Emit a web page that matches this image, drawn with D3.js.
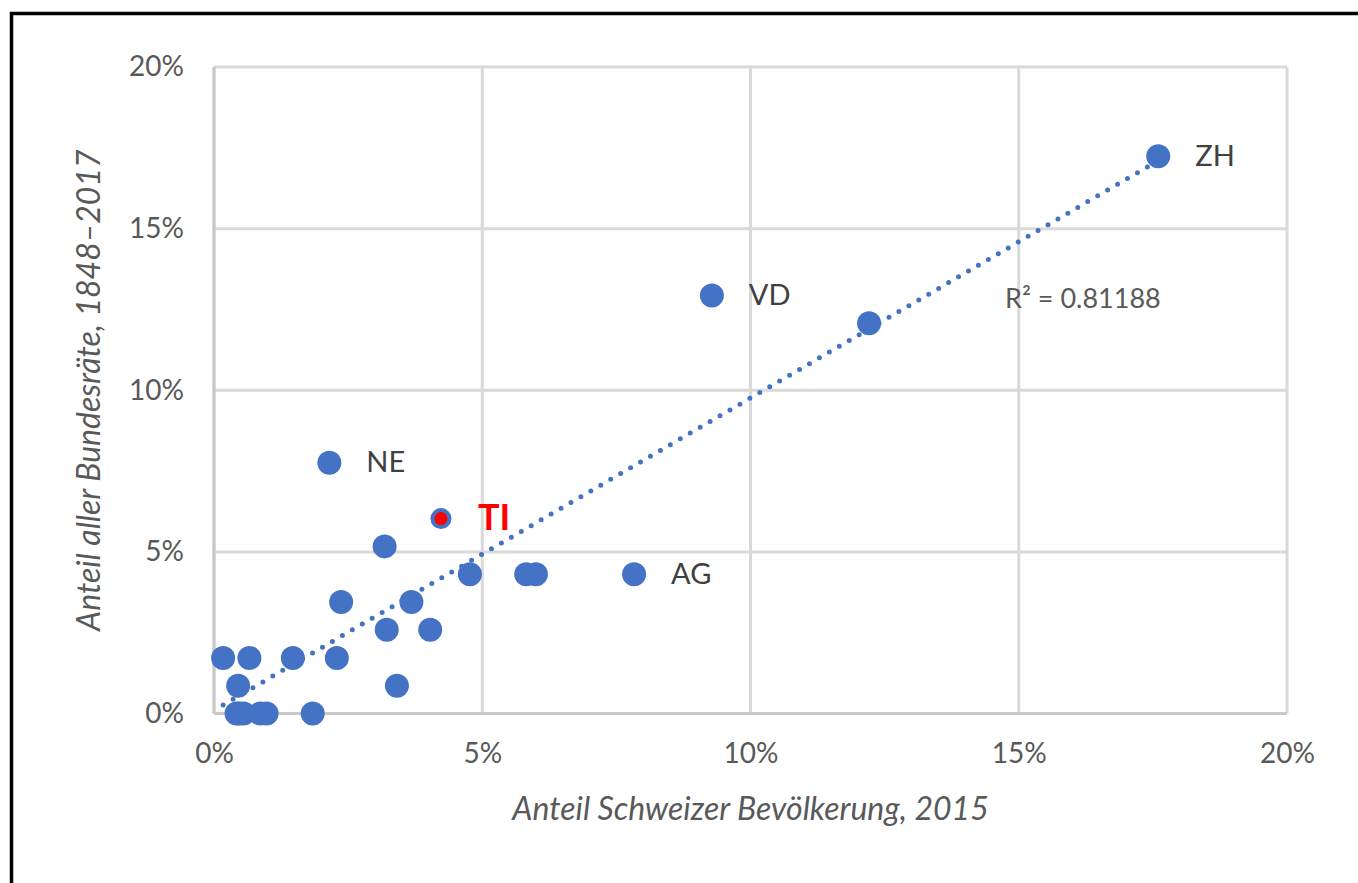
<!DOCTYPE html>
<html>
<head>
<meta charset="utf-8">
<script src="https://cdn.jsdelivr.net/npm/d3@7"></script>
<style>
  html, body { margin: 0; padding: 0; background: #fff; }
  svg { display: block; }
  text { font-family: Lato, "Open Sans", sans-serif; }
</style>
</head>
<body>
<svg id="chart" width="1358" height="883"></svg>
<script>
// Data (percent)
const cantons     = ["ZH","BE","VD","AG","SG","GE","LU","TI","VS","FR","BL","TG","SO","GR","BS","NE","SZ","ZG","SH","JU","AR","NW","GL","OW","UR","AI"];
const popShare    = [17.60,12.21,9.28,7.83,6.00,5.82,4.77,4.23,4.03,3.68,3.41,3.18,3.22,2.37,2.29,2.15,1.84,1.47,0.98,0.86,0.66,0.55,0.45,0.47,0.42,0.17];
const councilShare= [17.24,12.07,12.93,4.31,4.31,4.31,4.31,6.03,2.59,3.45,0.86,5.17,2.59,3.45,1.72,7.76,0,1.72,0,0,1.72,0,0.86,0,0,1.72];
const labelled    = ["ZH","VD","NE","TI","AG"];
const highlight   = "TI";
const xTicks = [0,5,10,15,20];
const yTicks = [0,5,10,15,20];
const r2Text = "R² = 0.81188";
const xTitle = "Anteil Schweizer Bevölkerung, 2015";
const yTitle = "Anteil aller Bundesräte, 1848–2017";

const data = cantons.map((c,i)=>({c, x: popShare[i], y: councilShare[i]}));

const svg = d3.select("#chart");
const x = d3.scaleLinear().domain([0,20]).range([214,1287]);
const y = d3.scaleLinear().domain([0,20]).range([713.5,67]);

// frame
svg.append("line").attr("x1",10).attr("x2",1358).attr("y1",13.5).attr("y2",13.5).attr("stroke","#000").attr("stroke-width",3.5);
svg.append("line").attr("x1",11.5).attr("x2",11.5).attr("y1",12).attr("y2",883).attr("stroke","#000").attr("stroke-width",3.5);

// grid
const grid = svg.append("g");
grid.selectAll(".gx").data(xTicks).join("line")
  .attr("x1",d=>x(d)).attr("x2",d=>x(d)).attr("y1",y(20)).attr("y2",y(0))
  .attr("stroke","#d9d9d9").attr("stroke-width",3);
grid.selectAll(".gy").data(yTicks).join("line")
  .attr("x1",x(0)).attr("x2",x(20)).attr("y1",d=>y(d)).attr("y2",d=>y(d))
  .attr("stroke","#d9d9d9").attr("stroke-width",3);
// axis lines
svg.append("line").attr("x1",x(0)).attr("x2",x(20)).attr("y1",y(0)).attr("y2",y(0)).attr("stroke","#c8c8c8").attr("stroke-width",3);
svg.append("line").attr("x1",x(0)).attr("x2",x(0)).attr("y1",y(0)).attr("y2",y(20)).attr("stroke","#c8c8c8").attr("stroke-width",3);

// axes tick labels via d3 axes
const xAxis = d3.axisBottom(x).tickValues(xTicks).tickFormat(d=>d+"%").tickSize(0).tickPadding(30);
const gx = svg.append("g").attr("transform",`translate(0,${y(0)})`).call(xAxis);
const yAxis = d3.axisLeft(y).tickValues(yTicks).tickFormat(d=>d+"%").tickSize(0).tickPadding(30);
const gy = svg.append("g").attr("transform",`translate(${x(0)},0)`).call(yAxis);
[gx,gy].forEach(g=>{
  g.select(".domain").remove();
  g.selectAll("text").attr("font-family","Lato, sans-serif").attr("font-size",28).attr("fill","#595959");
});

// regression
const mx = d3.mean(popShare), my = d3.mean(councilShare);
const sxy = d3.sum(data, d=>(d.x-mx)*(d.y-my));
const sxx = d3.sum(data, d=>(d.x-mx)**2);
const slope = sxy/sxx, intercept = my - slope*mx;
const x0 = d3.min(popShare), x1 = d3.max(popShare);
svg.append("line")
  .attr("x1",x(x0)).attr("y1",y(intercept+slope*x0))
  .attr("x2",x(x1)).attr("y2",y(intercept+slope*x1))
  .attr("stroke","#4472c4").attr("stroke-width",5)
  .attr("stroke-linecap","round").attr("stroke-dasharray","0 11.5");

// points
svg.append("g").selectAll("circle").data(data.filter(d=>d.c!==highlight)).join("circle")
  .attr("cx",d=>x(d.x)).attr("cy",d=>y(d.y)).attr("r",12).attr("fill","#4472c4");
svg.append("g").selectAll("circle").data(data.filter(d=>d.c===highlight)).join("circle")
  .attr("cx",d=>x(d.x)).attr("cy",d=>y(d.y)).attr("r",8.5).attr("fill","#ff0000")
  .attr("stroke","#4472c4").attr("stroke-width",4);

// labels
svg.append("g").selectAll("text").data(data.filter(d=>labelled.includes(d.c))).join("text")
  .attr("x",d=>x(d.x)+37).attr("y",d=>y(d.y)+2)
  .attr("dominant-baseline","middle")
  .attr("font-size",d=>d.c===highlight?36:29)
  .attr("font-weight",d=>d.c===highlight?700:400)
  .attr("fill",d=>d.c===highlight?"#ff0000":"#404040")
  .text(d=>d.c);

// R2
svg.append("text").attr("x",1005).attr("y",301).attr("dominant-baseline","middle")
  .attr("font-size",27).attr("fill","#595959").text(r2Text);

// axis titles
svg.append("text").attr("x",(x(0)+x(20))/2).attr("y",812).attr("text-anchor","middle")
  .attr("dominant-baseline","middle").attr("font-style","italic").attr("font-size",32)
  .attr("fill","#595959").text(xTitle);
svg.append("text").attr("transform",`translate(92,${(y(0)+y(20))/2}) rotate(-90)`)
  .attr("text-anchor","middle").attr("dominant-baseline","middle")
  .attr("font-style","italic").attr("font-size",32).attr("fill","#595959").text(yTitle);
</script>
</body>
</html>
